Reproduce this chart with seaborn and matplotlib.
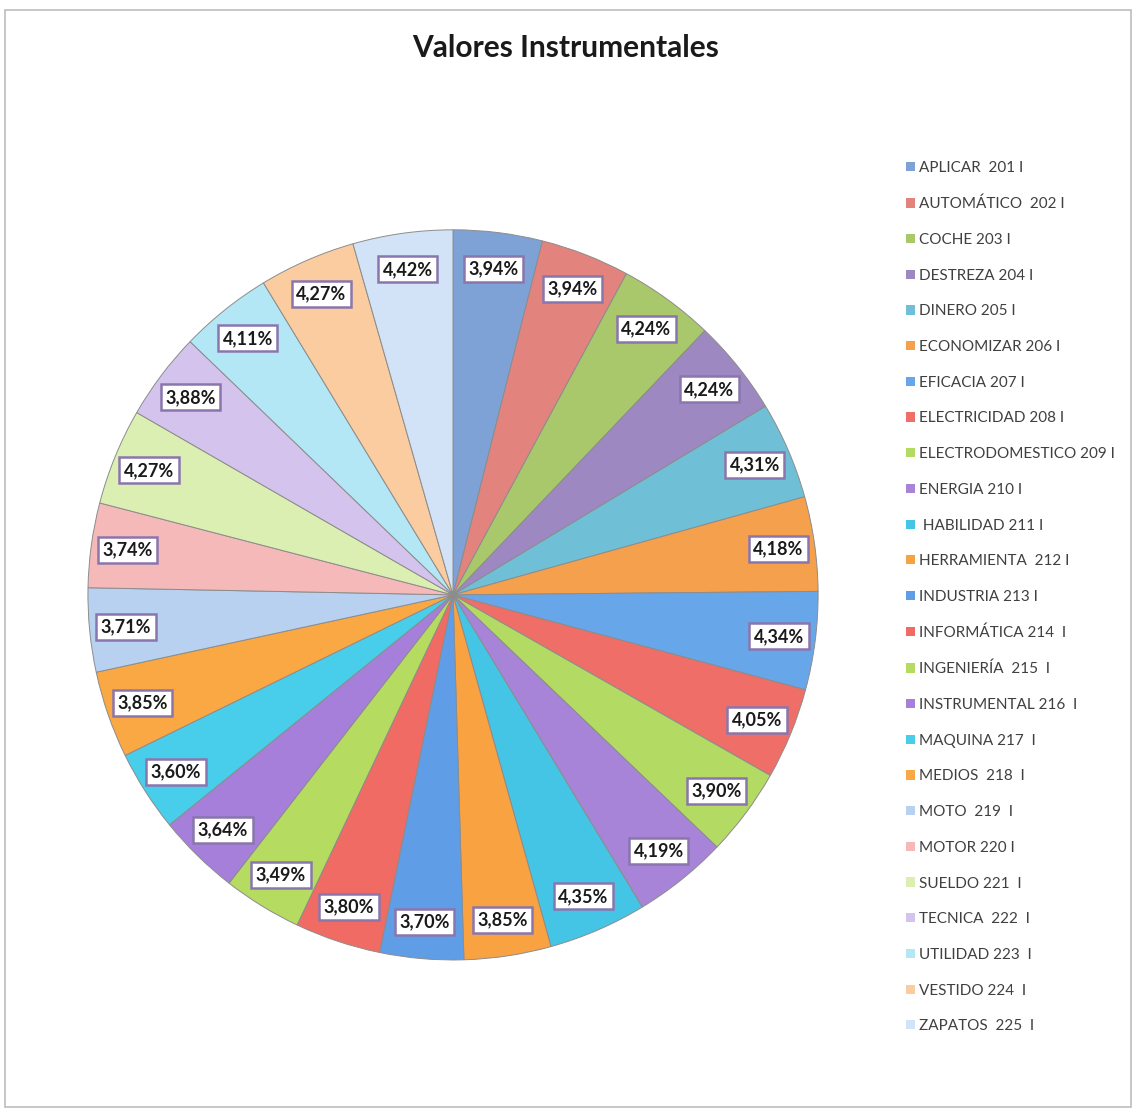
import numpy as np
import matplotlib
matplotlib.use("Agg")
import matplotlib.pyplot as plt
import seaborn as sns
from matplotlib.patches import Rectangle, Patch


OUT_PATH = "out.png"

TITLE = "Valores Instrumentales"

categories = [
    "APLICAR  201 I", "AUTOMÁTICO  202 I", "COCHE 203 I", "DESTREZA 204 I",
    "DINERO 205 I", "ECONOMIZAR 206 I", "EFICACIA 207 I", "ELECTRICIDAD 208 I",
    "ELECTRODOMESTICO 209 I", "ENERGIA 210 I", " HABILIDAD 211 I",
    "HERRAMIENTA  212 I", "INDUSTRIA 213 I", "INFORMÁTICA 214  I",
    "INGENIERÍA  215  I", "INSTRUMENTAL 216  I", "MAQUINA 217  I",
    "MEDIOS  218  I", "MOTO  219  I", "MOTOR 220 I", "SUELDO 221  I",
    "TECNICA  222  I", "UTILIDAD 223  I", "VESTIDO 224  I", "ZAPATOS  225  I",
]

percentages = [
    3.94, 3.94, 4.24, 4.24, 4.31, 4.18, 4.34, 4.05, 3.90, 4.19,
    4.35, 3.85, 3.70, 3.80, 3.49, 3.64, 3.60, 3.85, 3.71, 3.74,
    4.27, 3.88, 4.11, 4.27, 4.42,
]

slice_colors = [
    # office tones
    "#7ea2d6", "#e2837e", "#a9c86c", "#9d88c2", "#6fc0d7", "#f5a04c",
    # brighter tones
    "#68a6ea", "#ef6e67", "#b3da62", "#a784d8", "#44c5e6", "#f8a242",
    "#5f9de6", "#f06b63", "#b5dc60", "#a67fda", "#48cdea", "#f9a844",
    # pastels
    "#b9d1f1", "#f4b9b8", "#dcefb2", "#d4c3ec", "#b4e7f6", "#fbcc9f",
    "#d2e3f8",
]


def fmt_pct(v):
    return f"{v:.2f}%".replace(".", ",")


def main():
    sns.set_theme(style="white")
    plt.rcParams["font.family"] = ["Lato", "DejaVu Sans"]

    fig = plt.figure(figsize=(11.32, 11.08), dpi=100)
    fig.patch.set_facecolor("white")

    # light frame around chart area
    fig.patches.append(Rectangle((5 / 1132, 0.001), 1 - 6 / 1132, 1 - 10 / 1108 - 0.001,
                                 transform=fig.transFigure, fill=False,
                                 edgecolor="#bdbdbd", linewidth=1.2))

    ax = fig.add_axes([0.0777, 0.1336, 0.645, 0.659])
    wedges, _ = ax.pie(
        percentages,
        colors=slice_colors,
        startangle=90,
        counterclock=False,
        wedgeprops=dict(edgecolor="#8c8c8c", linewidth=0.7),
    )
    ax.set_xlim(-1.0, 1.0)
    ax.set_ylim(-1.0, 1.0)
    ax.set_aspect("equal")

    # data labels near the outer edge
    for w, v in zip(wedges, percentages):
        ang = np.deg2rad((w.theta1 + w.theta2) / 2)
        r = 0.9
        ax.text(r * np.cos(ang), r * np.sin(ang), fmt_pct(v),
                ha="center", va="center", fontsize=13, fontweight="bold",
                color="#1a1a1a",
                bbox=dict(boxstyle="square,pad=0.25", facecolor="white",
                          edgecolor="#8a76ad", linewidth=1.8))

    fig.text(0.5, 1 - 48 / 1108, TITLE, ha="center", va="center",
             fontsize=21.5, fontweight="bold", color="#1a1a1a")

    handles = [Patch(facecolor=c, edgecolor="none") for c in slice_colors]
    leg = fig.legend(
        handles, categories,
        loc="upper left",
        bbox_to_anchor=(900 / 1132, 1 - 155 / 1108),
        frameon=False,
        fontsize=11,
        handlelength=0.55,
        handleheight=0.55,
        handletextpad=0.3,
        labelspacing=1.42,
        borderaxespad=0,
    )
    for t in leg.get_texts():
        t.set_color("#404040")

    fig.savefig(OUT_PATH, dpi=100, facecolor="white")


if __name__ == "__main__":
    main()
